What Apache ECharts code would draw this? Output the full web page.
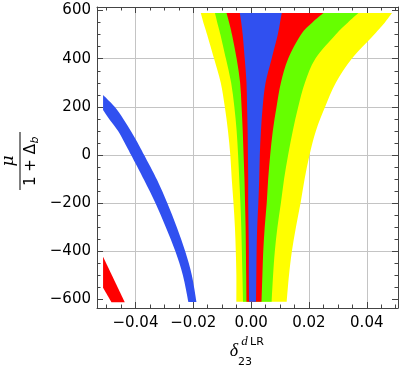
<!DOCTYPE html>
<html>
<head>
<meta charset="utf-8">
<script src="https://cdn.jsdelivr.net/npm/echarts@6/dist/echarts.min.js"></script>
<style>
  html, body { margin: 0; padding: 0; background: #fff; }
  #chart { width: 399px; height: 366px; }
</style>
</head>
<body>
<div id="chart"></div>
<script>
// funnel: left/right edge of each band, sampled at these mu values
const funnelY = [590, 550, 500, 400, 300, 200, 100, 0, -100, -200, -300, -400, -500, -610]
const yellowLeft = [-0.0174, -0.0165, -0.0152, -0.0128, -0.0105, -0.0091, -0.0080, -0.0072, -0.0067, -0.0061, -0.0056, -0.0053, -0.0051, -0.0051]
const yellowRight = [0.0487, 0.0462, 0.0425, 0.0348, 0.0293, 0.0256, 0.0224, 0.0202, 0.0185, 0.0171, 0.0155, 0.0141, 0.0131, 0.0123]
const greenLeft = [-0.0125, -0.0117, -0.0106, -0.0087, -0.0069, -0.0058, -0.0050, -0.0045, -0.0041, -0.0037, -0.0034, -0.0032, -0.0030, -0.0028]
const greenRight = [0.0371, 0.0334, 0.0292, 0.0222, 0.0186, 0.0163, 0.0144, 0.0128, 0.0114, 0.0103, 0.0091, 0.0082, 0.0076, 0.0071]
const redLeft = [-0.0085, -0.0076, -0.0066, -0.0050, -0.0038, -0.0033, -0.0029, -0.0026, -0.0023, -0.0021, -0.0019, -0.0018, -0.0017, -0.0016]
const redRight = [0.0250, 0.0211, 0.0172, 0.0128, 0.0103, 0.0088, 0.0075, 0.0066, 0.0059, 0.0054, 0.0047, 0.0042, 0.0039, 0.0036]
const blueLeft = [-0.0039, -0.0034, -0.0029, -0.0022, -0.0016, -0.0014, -0.0012, -0.0011, -0.0010, -0.0010, -0.0009, -0.0008, -0.0008, -0.0007]
const blueRight = [0.0106, 0.0100, 0.0092, 0.0071, 0.0050, 0.0040, 0.0034, 0.0030, 0.0028, 0.0025, 0.0021, 0.0019, 0.0018, 0.0017]

// second (blue) solution on the left, edges given separately (cut at the left border)
const bandLeftY = [187, 150, 100, 50, 0, -104, -200, -300, -400, -500, -611]
const bandLeftX = [-0.0512, -0.0491, -0.0460, -0.0437, -0.0415, -0.0370, -0.0331, -0.0295, -0.0262, -0.0236, -0.0217]
const bandRightY = [249, 200, 150, 100, 50, 0, -104, -200, -300, -400, -500, -611]
const bandRightX = [-0.0512, -0.0472, -0.0442, -0.0416, -0.0392, -0.0370, -0.0325, -0.0290, -0.0257, -0.0228, -0.0205, -0.0189]

// small red patch, bottom left corner
const patchX = [-0.0512, -0.0512, -0.0483, -0.0437]
const patchY = [-423, -552, -612, -612]

// ticks
const xMajor = [-0.04, -0.02, 0, 0.02, 0.04]
const xMinor = [-0.05, -0.045, -0.035, -0.03, -0.025, -0.015, -0.01, -0.005, 0.005, 0.01, 0.015, 0.025, 0.03, 0.035, 0.045, 0.05]
const yMajor = [-600, -400, -200, 0, 200, 400, 600]
const yMinor = [-550, -500, -450, -350, -300, -250, -150, -100, -50, 50, 100, 150, 250, 300, 350, 450, 500, 550]
const yGrid = [-400, -200, 0, 200, 400]

const X_MIN = -0.0533, X_MAX = 0.0508
const Y_MIN = -636, Y_MAX = 615

const COLORS = { yellow: '#ffff00', green: '#66ff00', red: '#ff0000', blue: '#3050f0' }
const frameColor = '#444'
const gridColor = '#c4c4c4'
const labelFont = 'DejaVu Sans'

const minus = v => (v < 0 ? '\u2212' : '')

// catmull-rom through pixel points -> cubic bezier path segments
const spline = pts => {
  let d = ''
  for (let i = 0; i < pts.length - 1; i++) {
    const p0 = pts[Math.max(i - 1, 0)], p1 = pts[i], p2 = pts[i + 1], p3 = pts[Math.min(i + 2, pts.length - 1)]
    const c1x = p1[0] + (p2[0] - p0[0]) / 6, c1y = p1[1] + (p2[1] - p0[1]) / 6
    const c2x = p2[0] - (p3[0] - p1[0]) / 6, c2y = p2[1] - (p3[1] - p1[1]) / 6
    d += ` C${c1x} ${c1y} ${c2x} ${c2y} ${p2[0]} ${p2[1]}`
  }
  return d
}

// region between two smooth edges (both listed top to bottom)
const regionSeries = (name, leftX, leftY, rightX, rightY, color) => ({
  name,
  type: 'custom',
  silent: true,
  clip: true,
  data: [0],
  renderItem: (params, api) => {
    const a = leftX.map((x, i) => api.coord([x, leftY[i]]))
    const b = rightX.map((x, i) => api.coord([x, rightY[i]])).reverse()
    const d = `M${a[0][0]} ${a[0][1]}` + spline(a) + ` L${b[0][0]} ${b[0][1]}` + spline(b) + ' Z'
    return { type: 'path', shape: { pathData: d }, style: { fill: color } }
  }
})

const polygonSeries = (name, xs, ys, color) => ({
  name,
  type: 'custom',
  silent: true,
  clip: true,
  data: [0],
  renderItem: (params, api) => ({
    type: 'polygon',
    shape: { points: xs.map((x, i) => api.coord([x, ys[i]])) },
    style: { fill: color }
  })
})

const xAxisDef = (position, ticks, len, opts = {}) => ({
  type: 'value',
  position,
  min: X_MIN,
  max: X_MAX,
  axisLine: { show: !!opts.line, onZero: false, lineStyle: { color: frameColor, width: 1 } },
  axisTick: { show: len > 0, inside: true, length: len, customValues: ticks, lineStyle: { color: frameColor } },
  axisLabel: opts.labels ? {
    show: true, customValues: ticks, margin: 8, color: '#000', fontSize: 15, fontFamily: labelFont,
    formatter: v => minus(v) + Math.abs(v).toFixed(2)
  } : { show: false },
  splitLine: { show: !!opts.split, lineStyle: { color: gridColor, width: 1 } }
})

const yAxisDef = (position, ticks, len, opts = {}) => ({
  type: 'value',
  position,
  min: Y_MIN,
  max: Y_MAX,
  axisLine: { show: !!opts.line, onZero: false, lineStyle: { color: frameColor, width: 1 } },
  axisTick: { show: len > 0, inside: true, length: len, customValues: ticks, lineStyle: { color: frameColor } },
  axisLabel: opts.labels ? {
    show: true, customValues: ticks, margin: 6, color: '#000', fontSize: 15, fontFamily: labelFont,
    formatter: v => minus(v) + Math.abs(v)
  } : { show: false },
  splitLine: { show: !!opts.split, lineStyle: { color: gridColor, width: 1 } }
})

const chart = echarts.init(document.getElementById('chart'), null, { renderer: 'canvas' })
chart.setOption({
  animation: false,
  backgroundColor: '#fff',
  grid: { left: 97, right: 1, top: 7, bottom: 58, containLabel: false },
  xAxis: [
    xAxisDef('bottom', xMajor, 6, { line: true, labels: true, split: true }),
    xAxisDef('top', xMajor, 6, { line: true }),
    xAxisDef('bottom', xMinor, 3.5),
    xAxisDef('top', xMinor, 3.5)
  ],
  yAxis: [
    yAxisDef('left', yMajor, 6, { line: true, labels: true }),
    yAxisDef('right', yMajor, 6, { line: true }),
    yAxisDef('left', yMinor, 3.5),
    yAxisDef('right', yMinor, 3.5),
    yAxisDef('left', yGrid, 0, { split: true })
  ],
  series: [
    regionSeries('yellow', yellowLeft, funnelY, yellowRight, funnelY, COLORS.yellow),
    regionSeries('green', greenLeft, funnelY, greenRight, funnelY, COLORS.green),
    regionSeries('red', redLeft, funnelY, redRight, funnelY, COLORS.red),
    regionSeries('blue', blueLeft, funnelY, blueRight, funnelY, COLORS.blue),
    regionSeries('blue2', bandLeftX, bandLeftY, bandRightX, bandRightY, COLORS.blue),
    polygonSeries('redPatch', patchX, patchY, COLORS.red)
  ],
  graphic: [
    // y title: mu / (1 + Delta_b), rotated
    {
      type: 'group', x: 20, y: 161, rotation: Math.PI / 2,
      children: [
        { type: 'text', x: 0, y: -11, style: { text: 'μ', font: 'italic 17px "DejaVu Serif"', fill: '#000', align: 'center', verticalAlign: 'middle' } },
        { type: 'line', shape: { x1: -29, y1: 0, x2: 29, y2: 0 }, style: { stroke: '#000', lineWidth: 1 } },
        { type: 'text', x: -4, y: 11, style: { text: '1 + Δ', font: '15px "DejaVu Sans"', fill: '#000', align: 'center', verticalAlign: 'middle' } },
        { type: 'text', x: 21, y: 15, style: { text: 'b', font: 'italic 11px "DejaVu Sans"', fill: '#000', align: 'center', verticalAlign: 'middle' } }
      ]
    },
    // x title: delta_23^{d LR}
    { type: 'text', x: 234, y: 351, style: { text: 'δ', font: 'italic 18px "Liberation Serif"', fill: '#000', align: 'center', verticalAlign: 'middle' } },
    { type: 'text', x: 244.5, y: 342, style: { text: 'd', font: 'italic 13px "Liberation Serif"', fill: '#000', align: 'center', verticalAlign: 'middle' } },
    { type: 'text', x: 257, y: 342, style: { text: 'LR', font: '11px "DejaVu Sans"', fill: '#000', align: 'center', verticalAlign: 'middle' } },
    { type: 'text', x: 245, y: 362, style: { text: '23', font: '11px "DejaVu Sans"', fill: '#000', align: 'center', verticalAlign: 'middle' } }
  ]
})
</script>
</body>
</html>
